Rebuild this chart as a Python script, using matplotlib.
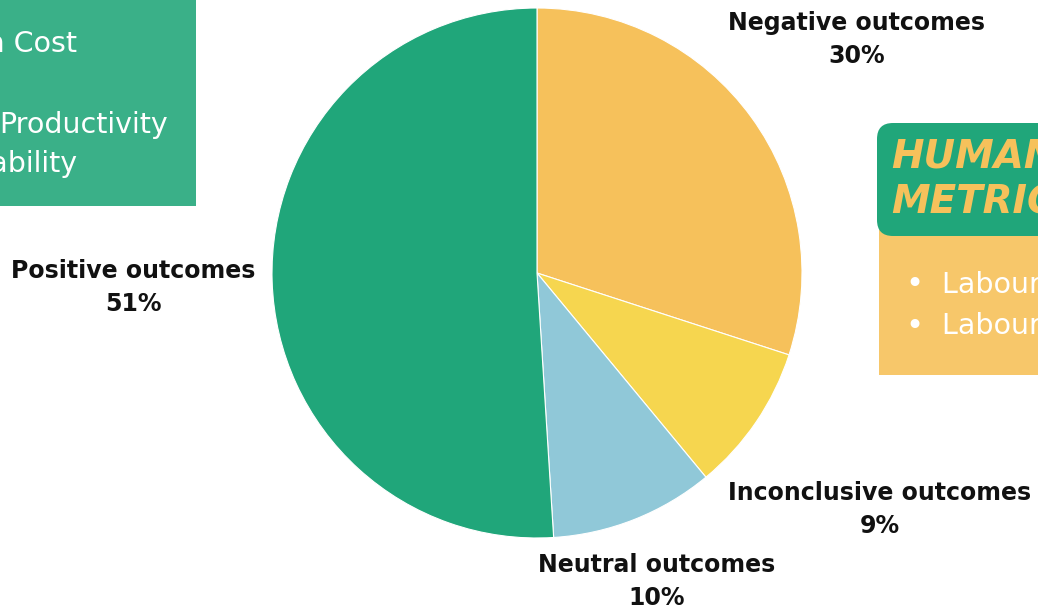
import matplotlib
matplotlib.use("Agg")
import matplotlib.pyplot as plt
from matplotlib.patches import FancyBboxPatch, Rectangle

# Outcome shares (percent), clockwise from 12 o'clock
categories = ["Negative outcomes", "Inconclusive outcomes", "Neutral outcomes", "Positive outcomes"]
shares = [30, 9, 10, 51]
colors = ["#F6C15B", "#F6D64F", "#90C8D8", "#20A67A"]

# Side panel texts
left_items = ["Production Cost", "Productivity", "Profitability"]
metrics_title = ["HUMAN", "METRICS"]
metrics_items = ["Labour Cost", "Labour Turnover"]

W, H = 1038, 607
fig = plt.figure(figsize=(W / 100, H / 100), dpi=100)
fig.patch.set_facecolor("white")

# Pixel-space canvas for panels and labels
bg = fig.add_axes([0, 0, 1, 1])
bg.set_xlim(0, W)
bg.set_ylim(H, 0)
bg.axis("off")

FONT = "DejaVu Sans"

# Left green panel
bg.add_patch(Rectangle((-10, -10), 206, 216, facecolor="#3AB088", edgecolor="none"))
bg.text(77, 44, left_items[0], color="white", fontsize=20.5, ha="right", va="center", family=FONT)
bg.text(168, 125, left_items[1], color="white", fontsize=20.5, ha="right", va="center", family=FONT)
bg.text(77, 164, left_items[2], color="white", fontsize=20.5, ha="right", va="center", family=FONT)

# Right metrics panel
bg.add_patch(Rectangle((879, 215), 200, 160, facecolor="#F7C76A", edgecolor="none"))
bg.add_patch(FancyBboxPatch((877, 123), 220, 113, boxstyle="round,pad=0,rounding_size=16",
                            facecolor="#20A67A", edgecolor="none"))
bg.text(891, 156, metrics_title[0], color="#F6C15B", fontsize=28, fontweight="bold",
        style="italic", ha="left", va="center", family=FONT)
bg.text(891, 202, metrics_title[1], color="#F6C15B", fontsize=28, fontweight="bold",
        style="italic", ha="left", va="center", family=FONT)
for i, item in enumerate(metrics_items):
    y = 285 + 41 * i
    bg.text(914, y, "\u2022", color="white", fontsize=22, ha="center", va="center", family=FONT)
    bg.text(942, y, item, color="white", fontsize=20.5, ha="left", va="center", family=FONT)

# Pie
cx, cy, r = 537, 273, 265
ax = fig.add_axes([(cx - r) / W, (H - cy - r) / H, 2 * r / W, 2 * r / H])
ax.pie(shares, colors=colors, startangle=90, counterclock=False, radius=1,
       wedgeprops=dict(edgecolor="white", linewidth=0.8))
ax.set_xlim(-1, 1)
ax.set_ylim(-1, 1)
ax.set_aspect("equal")
ax.patch.set_visible(False)

# Slice labels
label_pos = [(857, 23), (880, 493), (657, 565), (133, 271)]
for name, val, (x, y) in zip(categories, shares, label_pos):
    bg.text(x, y, name, fontsize=17, fontweight="bold", ha="center", va="center",
            color="#111111", family=FONT)
    bg.text(x, y + 33, f"{val}%", fontsize=17, fontweight="bold", ha="center",
            va="center", color="#111111", family=FONT)

fig.savefig("out.png", dpi=100)
